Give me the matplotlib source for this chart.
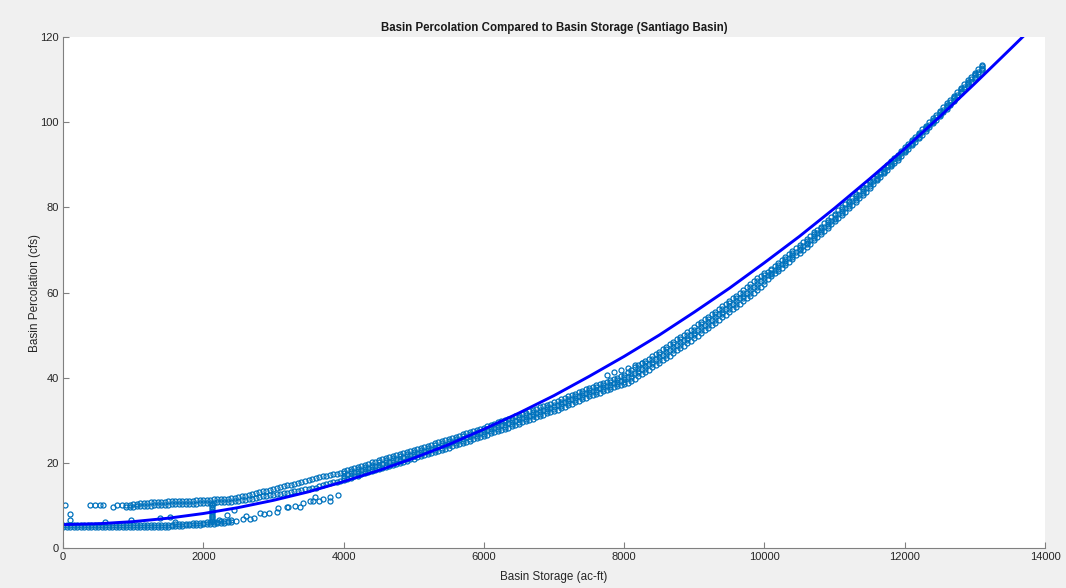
import matplotlib
matplotlib.use("Agg")
import matplotlib.pyplot as plt

plt.rcParams['font.family'] = ['Liberation Sans', 'DejaVu Sans']

# fitted curve
fit_storage = [0, 500, 1000, 1500, 2000, 2500, 3000, 3500, 4000, 4500, 5000, 5500,
               6000, 6500, 7000, 7500, 8000, 8500, 9000, 9500, 10000, 10500, 11000,
               11500, 12000, 12500, 13000, 13500, 13680]
fit_perc = [5.5, 5.7, 6.2, 7.0, 8.1, 9.5, 11.2, 13.2, 15.6, 18.2, 21.1, 24.3,
            27.9, 31.7, 35.8, 40.3, 45.0, 50.0, 55.4, 61.0, 67.0, 73.2, 79.8,
            86.7, 93.8, 101.3, 109.1, 117.1, 120.0]

# main band of observations: storage, then lower / middle / upper rows of the band
main_storage = [
    4000, 4050, 4100, 4150, 4200, 4250, 4300, 4350, 4400, 4450,
    4500, 4550, 4600, 4650, 4700, 4750, 4800, 4850, 4900, 4950,
    5000, 5050, 5100, 5150, 5200, 5250, 5300, 5350, 5400, 5450,
    5500, 5550, 5600, 5650, 5700, 5750, 5800, 5850, 5900, 5950,
    6000, 6050, 6100, 6150, 6200, 6250, 6300, 6350, 6400, 6450,
    6500, 6550, 6600, 6650, 6700, 6750, 6800, 6850, 6900, 6950,
    7000, 7050, 7100, 7150, 7200, 7250, 7300, 7350, 7400, 7450,
    7500, 7550, 7600, 7650, 7700, 7750, 7800, 7850, 7900, 7950,
    8000, 8050, 8100, 8150, 8200, 8250, 8300, 8350, 8400, 8450,
    8500, 8550, 8600, 8650, 8700, 8750, 8800, 8850, 8900, 8950,
    9000, 9050, 9100, 9150, 9200, 9250, 9300, 9350, 9400, 9450,
    9500, 9550, 9600, 9650, 9700, 9750, 9800, 9850, 9900, 9950,
    10000, 10050, 10100, 10150, 10200, 10250, 10300, 10350, 10400, 10450,
    10500, 10550, 10600, 10650, 10700, 10750, 10800, 10850, 10900, 10950,
    11000, 11050, 11100, 11150, 11200, 11250, 11300, 11350, 11400, 11450,
    11500, 11550, 11600, 11650, 11700, 11750, 11800, 11850, 11900, 11950,
    12000, 12050, 12100, 12150, 12200, 12250, 12300, 12350, 12400, 12450,
    12500, 12550, 12600, 12650, 12700, 12750, 12800, 12850, 12900, 12950,
    13000, 13050, 13100]
main_lo = [
    16.0, 16.3, 16.5, 16.8, 17.0, 17.3, 17.6, 17.8, 18.1, 18.3,
    18.6, 18.8, 19.1, 19.3, 19.6, 19.8, 20.0, 20.3, 20.5, 20.8,
    21.0, 21.3, 21.5, 21.8, 22.0, 22.3, 22.6, 22.8, 23.1, 23.3,
    23.6, 23.9, 24.1, 24.4, 24.7, 25.0, 25.2, 25.5, 25.8, 26.0,
    26.3, 26.6, 26.9, 27.2, 27.5, 27.8, 28.0, 28.3, 28.6, 28.9,
    29.2, 29.5, 29.8, 30.1, 30.4, 30.7, 31.0, 31.3, 31.6, 31.9,
    32.2, 32.5, 32.9, 33.2, 33.6, 33.9, 34.2, 34.6, 34.9, 35.3,
    35.6, 35.9, 36.2, 36.5, 36.8, 37.1, 37.4, 37.7, 38.0, 38.3,
    38.6, 38.8, 39.2, 39.8, 40.3, 40.8, 41.4, 41.9, 42.4, 43.0,
    43.5, 44.1, 44.7, 45.2, 45.8, 46.4, 47.0, 47.5, 48.1, 48.7,
    49.3, 49.9, 50.5, 51.1, 51.7, 52.3, 52.9, 53.6, 54.2, 54.8,
    55.5, 56.1, 56.7, 57.4, 58.0, 58.7, 59.3, 60.0, 60.7, 61.3,
    62.0, 63.1, 63.8, 64.5, 65.1, 65.8, 66.5, 67.2, 67.9, 68.7,
    69.4, 70.1, 70.8, 71.5, 72.3, 73.0, 73.7, 74.5, 75.2, 76.0,
    76.7, 77.5, 78.2, 79.0, 79.8, 80.5, 81.3, 82.1, 82.9, 83.7,
    84.5, 85.6, 86.4, 87.2, 88.0, 88.8, 89.6, 90.4, 91.2, 92.1,
    92.9, 93.7, 94.6, 95.4, 96.3, 97.1, 98.0, 98.8, 99.7, 100.6,
    101.4, 102.3, 103.2, 104.1, 105.0, 105.9, 106.8, 107.7, 108.6, 109.5,
    110.4, 111.3, 112.2]
main_mid = [
    17.0, 17.3, 17.5, 17.8, 18.0, 18.3, 18.6, 18.8, 19.1, 19.3,
    19.6, 19.8, 20.1, 20.3, 20.6, 20.8, 21.0, 21.3, 21.5, 21.8,
    22.0, 22.3, 22.5, 22.8, 23.0, 23.3, 23.6, 23.8, 24.1, 24.3,
    24.6, 24.9, 25.1, 25.4, 25.7, 26.0, 26.2, 26.5, 26.8, 27.0,
    27.3, 27.6, 27.9, 28.2, 28.5, 28.8, 29.0, 29.3, 29.6, 29.9,
    30.2, 30.5, 30.8, 31.1, 31.4, 31.7, 32.0, 32.3, 32.6, 32.9,
    33.2, 33.5, 33.9, 34.2, 34.6, 34.9, 35.2, 35.6, 35.9, 36.3,
    36.6, 36.9, 37.2, 37.5, 37.8, 38.1, 38.4, 38.7, 39.0, 39.3,
    39.6, 40.1, 40.5, 41.1, 41.6, 42.1, 42.7, 43.2, 43.7, 44.3,
    44.8, 45.4, 46.0, 46.5, 47.1, 47.7, 48.3, 48.8, 49.4, 50.0,
    50.6, 51.2, 51.8, 52.4, 53.0, 53.6, 54.2, 54.9, 55.5, 56.1,
    56.8, 57.4, 58.0, 58.7, 59.3, 60.0, 60.6, 61.3, 62.0, 62.6,
    63.3, 64.0, 64.7, 65.4, 66.0, 66.7, 67.4, 68.1, 68.8, 69.6,
    70.3, 71.0, 71.7, 72.4, 73.2, 73.9, 74.6, 75.4, 76.1, 76.9,
    77.6, 78.4, 79.1, 79.9, 80.7, 81.4, 82.2, 83.0, 83.8, 84.6,
    85.4, 86.2, 87.0, 87.8, 88.6, 89.4, 90.2, 91.0, 91.8, 92.7,
    93.5, 94.3, 95.2, 96.0, 96.9, 97.7, 98.6, 99.4, 100.3, 101.2,
    102.0, 102.9, 103.8, 104.7, 105.6, 106.5, 107.4, 108.3, 109.2, 110.1,
    111.0, 111.9, 112.8]
main_hi = [
    18.0, 18.3, 18.5, 18.8, 19.0, 19.3, 19.6, 19.8, 20.1, 20.3,
    20.6, 20.8, 21.1, 21.3, 21.6, 21.8, 22.0, 22.3, 22.5, 22.8,
    23.0, 23.3, 23.5, 23.8, 24.0, 24.3, 24.6, 24.8, 25.1, 25.3,
    25.6, 25.9, 26.1, 26.4, 26.7, 27.0, 27.2, 27.5, 27.8, 28.0,
    28.3, 28.6, 28.9, 29.2, 29.5, 29.8, 30.0, 30.3, 30.6, 30.9,
    31.2, 31.5, 31.8, 32.1, 32.4, 32.7, 33.0, 33.3, 33.6, 33.9,
    34.2, 34.5, 34.9, 35.2, 35.6, 35.9, 36.2, 36.6, 36.9, 37.3,
    37.6, 37.9, 38.2, 38.5, 38.8, 39.1, 39.4, 39.7, 40.0, 40.3,
    40.6, 41.4, 41.8, 42.4, 42.9, 43.4, 44.0, 44.5, 45.0, 45.6,
    46.1, 46.7, 47.3, 47.8, 48.4, 49.0, 49.6, 50.1, 50.7, 51.3,
    51.9, 52.5, 53.1, 53.7, 54.3, 54.9, 55.5, 56.2, 56.8, 57.4,
    58.1, 58.7, 59.3, 60.0, 60.6, 61.3, 61.9, 62.6, 63.3, 63.9,
    64.6, 64.9, 65.6, 66.3, 66.9, 67.6, 68.3, 69.0, 69.7, 70.5,
    71.2, 71.9, 72.6, 73.3, 74.1, 74.8, 75.5, 76.3, 77.0, 77.8,
    78.5, 79.3, 80.0, 80.8, 81.6, 82.3, 83.1, 83.9, 84.7, 85.5,
    86.3, 86.8, 87.6, 88.4, 89.2, 90.0, 90.8, 91.6, 92.4, 93.3,
    94.1, 94.9, 95.8, 96.6, 97.5, 98.3, 99.2, 100.0, 100.9, 101.8,
    102.6, 103.5, 104.4, 105.3, 106.2, 107.1, 108.0, 108.9, 109.8, 110.7,
    111.6, 112.5, 113.4]

# in-between rows of the main band, every 100 ac-ft
main_q_storage = [
    4000, 4100, 4200, 4300, 4400, 4500, 4600, 4700, 4800, 4900,
    5000, 5100, 5200, 5300, 5400, 5500, 5600, 5700, 5800, 5900,
    6000, 6100, 6200, 6300, 6400, 6500, 6600, 6700, 6800, 6900,
    7000, 7100, 7200, 7300, 7400, 7500, 7600, 7700, 7800, 7900,
    8000, 8100, 8200, 8300, 8400, 8500, 8600, 8700, 8800, 8900,
    9000, 9100, 9200, 9300, 9400, 9500, 9600, 9700, 9800, 9900,
    10000, 10100, 10200, 10300, 10400, 10500, 10600, 10700, 10800, 10900,
    11000, 11100, 11200, 11300, 11400, 11500, 11600, 11700, 11800, 11900,
    12000, 12100, 12200, 12300, 12400, 12500, 12600, 12700, 12800, 12900,
    13000, 13100]
main_q_lo = [
    16.5, 17.0, 17.5, 18.1, 18.6, 19.1, 19.6, 20.1, 20.5, 21.0,
    21.5, 22.0, 22.5, 23.1, 23.6, 24.1, 24.6, 25.2, 25.7, 26.3,
    26.8, 27.4, 28.0, 28.5, 29.1, 29.7, 30.3, 30.9, 31.5, 32.1,
    32.7, 33.4, 34.1, 34.7, 35.4, 36.1, 36.7, 37.3, 37.9, 38.5,
    39.1, 39.9, 41.0, 42.1, 43.1, 44.2, 45.4, 46.5, 47.7, 48.8,
    50.0, 51.2, 52.4, 53.6, 54.9, 56.2, 57.4, 58.7, 60.0, 61.4,
    62.7, 64.3, 65.6, 67.0, 68.4, 69.9, 71.3, 72.8, 74.2, 75.7,
    77.2, 78.7, 80.3, 81.8, 83.4, 85.0, 86.7, 88.3, 89.9, 91.5,
    93.2, 94.9, 96.6, 98.3, 100.0, 101.7, 103.5, 105.3, 107.1, 108.9,
    110.7, 112.5]
main_q_hi = [
    17.5, 18.0, 18.5, 19.1, 19.6, 20.1, 20.6, 21.1, 21.5, 22.0,
    22.5, 23.0, 23.5, 24.1, 24.6, 25.1, 25.6, 26.2, 26.7, 27.3,
    27.8, 28.4, 29.0, 29.5, 30.1, 30.7, 31.3, 31.9, 32.5, 33.1,
    33.7, 34.4, 35.1, 35.7, 36.4, 37.1, 37.7, 38.3, 38.9, 39.5,
    40.1, 41.2, 42.3, 43.4, 44.4, 45.5, 46.7, 47.8, 49.0, 50.1,
    51.3, 52.5, 53.7, 54.9, 56.2, 57.5, 58.7, 60.0, 61.3, 62.7,
    64.0, 65.2, 66.5, 67.9, 69.3, 70.8, 72.2, 73.7, 75.1, 76.6,
    78.1, 79.6, 81.2, 82.7, 84.3, 85.9, 87.3, 88.9, 90.5, 92.1,
    93.8, 95.5, 97.2, 98.9, 100.6, 102.3, 104.1, 105.9, 107.7, 109.5,
    111.3, 113.1]

# upper branch at low storage
upper_storage = [
    900, 950, 1000, 1050, 1100, 1150, 1200, 1250, 1300, 1350, 1400,
    1450, 1500, 1550, 1600, 1650, 1700, 1750, 1800, 1850, 1900, 1950,
    2000, 2050, 2100, 2150, 2200, 2250, 2300, 2350, 2400, 2450,
    2500, 2550, 2600, 2650, 2700, 2750, 2800, 2850, 2900, 2950,
    3000, 3050, 3100, 3150, 3200, 3250, 3300, 3350, 3400, 3450,
    3500, 3550, 3600, 3650, 3700, 3750, 3800, 3850, 3900, 3950]
upper_lo = [
    9.7, 9.7, 9.7, 9.75, 9.8, 9.85, 9.9, 9.95, 10.0, 10.05, 10.1,
    10.15, 10.2, 10.25, 10.3, 10.3, 10.35, 10.4, 10.4, 10.45, 10.45, 10.5,
    10.5, 10.55, 10.6, 10.65, 10.7, 10.75, 10.8, 10.85, 10.9, 11.0,
    11.1, 11.2, 11.3, 11.45, 11.6, 11.8, 12.0, 12.15, 12.3, 12.4,
    12.5, 12.65, 12.8, 12.9, 13.0, 13.15, 13.3, 13.45, 13.6, 13.75,
    13.9, 14.05, 14.2, 14.45, 14.7, 14.95, 15.2, 15.4, 15.6, 15.8]
upper_hi = [
    10.0, 10.1, 10.3, 10.4, 10.5, 10.6, 10.65, 10.7, 10.75, 10.8, 10.85,
    10.9, 10.95, 11.0, 11.0, 11.05, 11.05, 11.1, 11.1, 11.15, 11.2, 11.2,
    11.25, 11.3, 11.35, 11.4, 11.45, 11.5, 11.55, 11.6, 11.7, 11.8,
    11.95, 12.1, 12.3, 12.5, 12.7, 12.9, 13.1, 13.3, 13.5, 13.7,
    13.9, 14.1, 14.3, 14.5, 14.7, 14.9, 15.1, 15.3, 15.5, 15.7,
    15.95, 16.2, 16.45, 16.7, 16.85, 17.0, 17.15, 17.3, 17.45, 17.6]

# lower branch at low storage
lower_storage = [
    0, 50, 100, 150, 200, 250, 300, 350, 400, 450, 500, 550, 600, 650, 700,
    750, 800, 850, 900, 950, 1000, 1050, 1100, 1150, 1200, 1250, 1300, 1350, 1400,
    1450, 1500, 1550, 1600, 1650, 1700, 1750, 1800, 1850, 1900, 1950,
    2000, 2050, 2100, 2150, 2200, 2250, 2300, 2350, 2400]
lower_lo = [4.95] * 29 + [
    5.0, 5.05, 5.1, 5.15, 5.2, 5.25, 5.3, 5.35, 5.4, 5.45, 5.5,
    5.55, 5.6, 5.65, 5.7, 5.8, 5.9, 5.95, 6.0, 6.1]
lower_hi = [5.35] * 29 + [
    5.4, 5.45, 5.5, 5.55, 5.6, 5.65, 5.7, 5.75, 5.8, 5.85, 5.9,
    5.95, 6.0, 6.05, 6.1, 6.2, 6.3, 6.35, 6.45, 6.5]

# vertical jump near 2100 ac-ft
column_storage = [2120, 2120, 2120, 2120, 2120, 2120, 2120, 2120, 2120, 2120, 2120]
column_perc = [6.4, 6.8, 7.2, 7.6, 8.0, 8.4, 8.8, 9.2, 9.6, 10.0, 10.4]

# loose points
sparse_storage = [28, 100, 100, 385, 456, 527, 575, 717, 765, 836, 598, 971,
                  1383, 1525, 1603, 2225, 2344, 2440, 2464, 2560, 2608, 2666,
                  2727, 2810, 2871, 2943, 3050, 3062, 3190, 3206, 3301, 3380,
                  3421, 3520, 3565, 3589, 3650, 3708, 3810, 3804, 3923,
                  7750, 7850, 7950, 8050, 8150, 8250]
sparse_perc = [10.1, 7.9, 6.6, 10.1, 10.1, 10.1, 10.1, 9.7, 10.0, 10.2, 6.1, 6.5,
               7.1, 7.4, 6.2, 6.5, 7.7, 8.9, 6.4, 6.8, 7.5, 6.9,
               7.1, 8.2, 8.1, 8.3, 8.4, 9.5, 9.7, 9.6, 9.8, 9.7,
               10.6, 11.0, 11.1, 12.0, 11.0, 11.6, 11.0, 12.0, 12.4,
               40.6, 41.3, 41.8, 42.3, 42.9, 43.5]

storage = (main_storage * 3 + main_q_storage * 2 + upper_storage * 2
           + lower_storage * 2 + column_storage + sparse_storage)
perc = (main_lo + main_mid + main_hi + main_q_lo + main_q_hi + upper_lo + upper_hi
        + lower_lo + lower_hi + column_perc + sparse_perc)

fig = plt.figure(figsize=(10.66, 5.88), dpi=100)
fig.patch.set_facecolor('#f0f0f0')
ax = fig.add_axes([0.0591, 0.068, 0.9212, 0.869])
ax.set_facecolor('white')

ax.plot(storage, perc, 'o', ms=3.6, mfc='none', mec='#0072BD', mew=0.9)
ax.plot(fit_storage, fit_perc, color='#0000ff', lw=2.1)

ax.set_xlim(0, 14000)
ax.set_ylim(0, 120)
ax.set_xticks(range(0, 14001, 2000))
ax.set_yticks(range(0, 121, 20))

for s in ['top', 'right']:
    ax.spines[s].set_visible(False)
for s in ['left', 'bottom']:
    ax.spines[s].set_color('#808080')
    ax.spines[s].set_linewidth(0.8)
ax.tick_params(direction='in', length=4, width=0.8, color='#808080',
               labelcolor='#262626', labelsize=8, pad=3)

ax.set_title('Basin Percolation Compared to Basin Storage (Santiago Basin)',
             fontsize=8.3, fontweight='bold', color='#1a1a1a', pad=4)
ax.set_xlabel('Basin Storage (ac-ft)', fontsize=8.4, color='#262626', labelpad=6)
ax.set_ylabel('Basin Percolation (cfs)', fontsize=8.5, color='#262626', labelpad=-0.5)

fig.savefig('out.png', dpi=100, facecolor=fig.get_facecolor())
